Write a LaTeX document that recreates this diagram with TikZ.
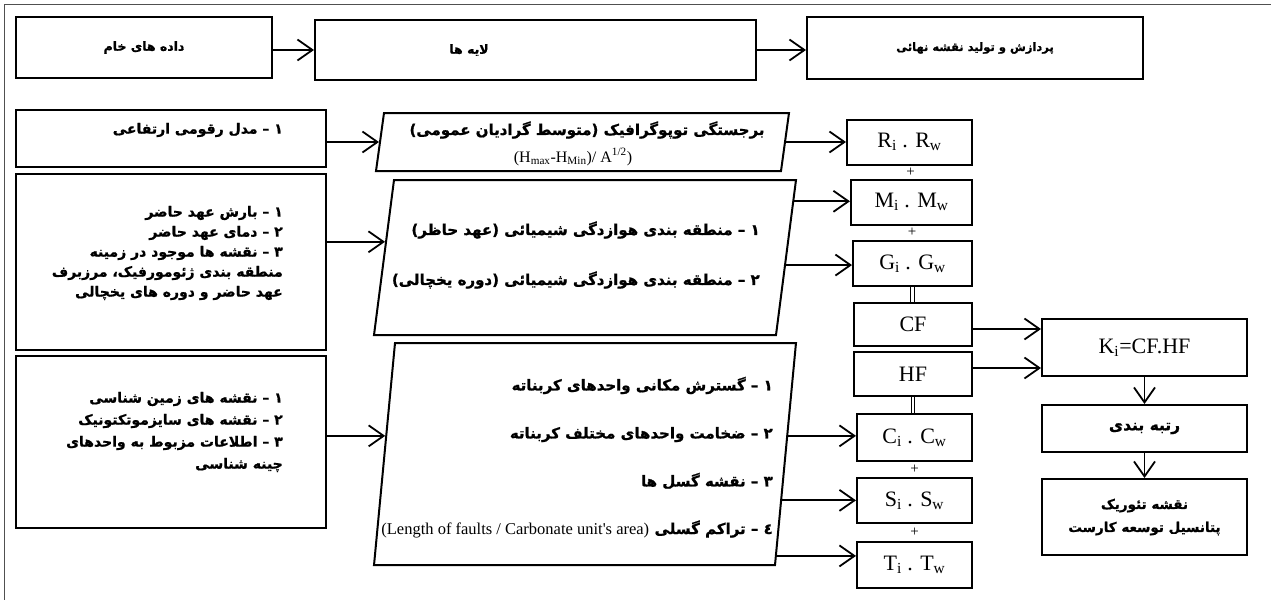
\documentclass[tikz,border=0pt]{standalone}
\usepackage{fontspec}
\setmainfont{Liberation Serif}
\newfontfamily\latinf{Liberation Serif}
\newfontfamily\farsi[Script=Arabic,BoldFeatures={FakeBold=1}]{DejaVu Sans}
\TeXXeTstate=1
\usetikzlibrary{arrows.meta,positioning,calc,shapes.geometric}
\definecolor{framegray}{RGB}{80,80,80}

\tikzset{
  box/.style={draw,line width=2pt,inner sep=0pt},
  para/.style={draw,line width=2pt,trapezium,trapezium stretches=false,trapezium stretches body=false,
    inner sep=0pt,text depth=0pt},
  fatxt/.style={font=\farsi\bfseries\fontsize{14}{#1}\selectfont,align=right,inner sep=0pt},
  fatxt/.default=20,
  bigfa/.style={font=\farsi\bfseries\fontsize{15}{#1}\selectfont,align=right,inner sep=0pt},
  bigfa/.default=20,
  latxt/.style={font=\fontsize{22}{24}\selectfont},
  plus/.style={font=\fontsize{15}{15}\selectfont,inner sep=0pt},
  arr/.style={-{Straight Barb[length=15pt,width=21pt]},line width=1.8pt},
  eqline/.style={double,double distance=2.5pt,line width=1pt},
}

\begin{document}
\begin{tikzpicture}[x=1pt,y=-1pt]
  \useasboundingbox (0,0) rectangle (1271,600);
  \draw[framegray,line width=1.5pt] (1271,4.5) -- (4.5,4.5) -- (4.5,600);

  % headers
  \node[box,fatxt,font=\farsi\bfseries\fontsize{12.5}{20}\selectfont,align=center,minimum width=256pt,minimum height=61pt] (raw) at (144,47.5) {\beginR داده های خام\endR};
  \node[box,minimum width=441pt,minimum height=60pt] (layers) at (535.5,50) {};
  \node[fatxt,font=\farsi\bfseries\fontsize{12.5}{20}\selectfont] (layerst) at (469,50) {\beginR لایه ها\endR};
  \node[box,fatxt,font=\farsi\bfseries\fontsize{11.5}{20}\selectfont,align=center,minimum width=336pt,minimum height=62pt] (proc) at (975,48) {\beginR پردازش و تولید نقشه نهائی\endR};
  \draw[arr] (raw.east |- layers) -- (layers);
  \draw[arr] (layers.east) -- (layers.east -| proc.west);

  % raw data
  \node[box,minimum width=310pt,minimum height=57pt] (dem) at (171,138.5) {};
  \node[box,minimum width=310pt,minimum height=176pt] (clim) at (171,262) {};
  \node[box,minimum width=310pt,minimum height=172pt] (geo) at (171,442) {};
  \node[fatxt,anchor=east] (demt) at (283,130) {\beginR ١ – مدل رقومی ارتفاعی\endR};
  \node[fatxt,anchor=east] (climt) at (283,253) {\beginR ١ – بارش عهد حاضر\endR\\
    \beginR ٢ – دمای عهد حاضر\endR\\
    \beginR ٣ – نقشه ها موجود در زمینه\endR\\
    \beginR منطقه بندی ژئومورفیک، مرزبرف\endR\\
    \beginR عهد حاضر و دوره های یخچالی\endR};
  \node[fatxt=22,anchor=east] (geot) at (283,432) {\beginR ١ – نقشه های زمین شناسی\endR\\
    \beginR ٢ – نقشه های سایزموتکتونیک\endR\\
    \beginR ٣ – اطلاعات مزبوط به واحدهای\endR\\
    \beginR چینه شناسی\endR};

  % layers
  \node[para,trapezium left angle=82.15,trapezium right angle=97.85,text width=397pt,text height=58pt] (topo) at (582.5,142) {};
  \node[para,trapezium left angle=82.65,trapezium right angle=97.35,text width=382pt,text height=155pt] (weath) at (585,257.5) {};
  \node[para,trapezium left angle=84.6,trapezium right angle=95.4,text width=380pt,text height=222pt] (carb) at (585,454) {};
  \node[bigfa] (topot) at (587,130) {\beginR برجستگی توپوگرافیک (متوسط گرادیان عمومی)\endR};
  \node[font=\latinf\fontsize{16}{18}\selectfont,inner sep=0pt] (relief) at (573,157) {(H\textsubscript{max}-H\textsubscript{Min})/ A\textsuperscript{1/2})};
  \node[bigfa=50,anchor=east] (weatht) at (760,255) {\beginR ١ – منطقه بندی هوازدگی شیمیائی (عهد حاظر)\endR\\
    \beginR ٢ – منطقه بندی هوازدگی شیمیائی (دوره یخچالی)\endR};
  \node[bigfa=48,anchor=east] (carbt) at (773,433) {\beginR ١ –  گسترش مکانی واحدهای کربناته\endR\\
    \beginR ٢ – ضخامت واحدهای مختلف کربناته\endR\\
    \beginR ٣ – نقشه گسل ها\endR};
  \node[bigfa,anchor=east] (carbt4) at (773,529) {\beginR ٤ – تراکم گسلی\endR};
  \node[font=\latinf\fontsize{16.5}{18}\selectfont,inner sep=0pt,anchor=base east] (faultlen) at ([xshift=-5pt]carbt4.base west) {(Length of faults / Carbonate unit's area)};

  \draw[arr] (dem.east |- topo) -- (topo);
  \coordinate (w0) at ($(weath.top left corner)!0.4!(weath.bottom left corner)$);
  \draw[arr] (w0 -| clim.east) -- (w0);
  \coordinate (c0) at ($(carb.top left corner)!0.419!(carb.bottom left corner)$);
  \draw[arr] (c0 -| geo.east) -- (c0);

  % weighted factors
  \node[box,latxt,minimum width=125pt,minimum height=45pt] (rw) at (909.5,142) {R\textsubscript{i} . R\textsubscript{w}};
  \node[box,latxt,minimum width=121pt,minimum height=45pt] (mw) at (911.5,202) {M\textsubscript{i} . M\textsubscript{w}};
  \node[box,latxt,minimum width=119pt,minimum height=45pt] (gw) at (912.5,263.5) {G\textsubscript{i} . G\textsubscript{w}};
  \node[box,latxt,minimum width=118pt,minimum height=43pt] (cf) at (913,324.5) {CF};
  \node[box,latxt,minimum width=118pt,minimum height=44pt] (hf) at (913,374) {HF};
  \node[box,latxt,minimum width=115pt,minimum height=47pt] (cw) at (914.5,437.5) {C\textsubscript{i} . C\textsubscript{w}};
  \node[box,latxt,minimum width=115pt,minimum height=45pt] (sw) at (914.5,500.5) {S\textsubscript{i} . S\textsubscript{w}};
  \node[box,latxt,minimum width=115pt,minimum height=46pt] (tw) at (914.5,565) {T\textsubscript{i} . T\textsubscript{w}};

  \node[plus] (pl1) at ($(rw.south)!0.5!(mw.north)$) {+};
  \node[plus] (pl2) at ($(mw.south)!0.5!(gw.north)$) {+};
  \node[plus] (pl3) at ($(cw.south)!0.5!(sw.north)$) {+};
  \node[plus] (pl4) at ($(sw.south)!0.5!(tw.north)$) {+};
  \draw[eqline] (gw.south) -- (gw.south |- cf.north);
  \draw[eqline] (hf.south) -- (hf.south |- cw.north);

  \draw[arr] (topo) -- (rw);
  \coordinate (w1) at ($(weath.top right corner)!0.142!(weath.bottom right corner)$);
  \coordinate (w2) at ($(weath.top right corner)!0.548!(weath.bottom right corner)$);
  \draw[arr] (w1) -- (w1 -| mw.west);
  \draw[arr] (w2) -- (w2 -| gw.west);
  \coordinate (c1) at ($(carb.top right corner)!0.419!(carb.bottom right corner)$);
  \coordinate (c2) at ($(carb.top right corner)!0.707!(carb.bottom right corner)$);
  \coordinate (c3) at ($(carb.top right corner)!0.955!(carb.bottom right corner)$);
  \draw[arr] (c1) -- (c1 -| cw.west);
  \draw[arr] (c2) -- (c2 -| sw.west);
  \draw[arr] (c3) -- (c3 -| tw.west);

  % final map
  \node[box,latxt,minimum width=205pt,minimum height=57pt] (ki) at (1144.5,347.5) {K\textsubscript{i}=CF.HF};
  \node[box,fatxt,font=\farsi\bfseries\fontsize{15.5}{20}\selectfont,align=center,minimum width=205pt,minimum height=47pt] (rank) at (1144.5,428.5) {\beginR رتبه بندی\endR};
  \node[box,fatxt=23,font=\farsi\bfseries\fontsize{13.5}{23}\selectfont,align=center,minimum width=205pt,minimum height=76pt] (final) at (1144.5,517) {\beginR نقشه تئوریک\endR\\ \beginR پتانسیل توسعه کارست\endR};
  \coordinate (k1) at ([yshift=-4.5pt]cf.east);
  \coordinate (k2) at ([yshift=6pt]hf.east);
  \draw[arr] (k1) -- (k1 -| ki.west);
  \draw[arr] (k2) -- (k2 -| ki.west);
  \draw[arr] (ki) -- (rank);
  \draw[arr] (rank) -- (final);
\end{tikzpicture}
\end{document}
